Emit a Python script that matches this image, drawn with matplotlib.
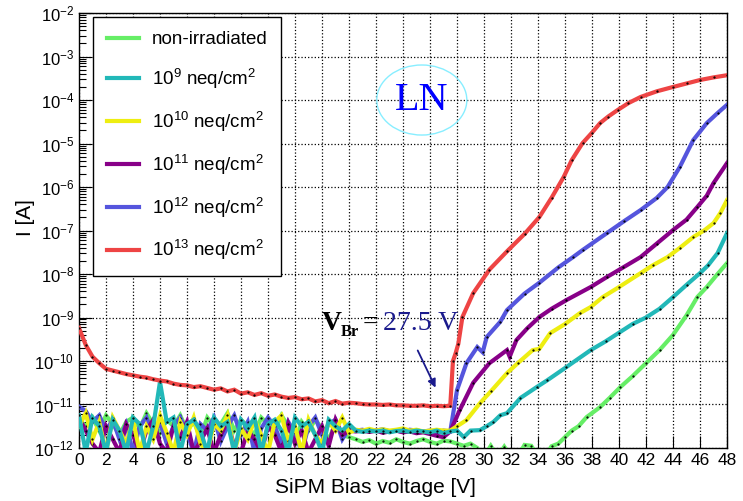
import matplotlib
matplotlib.use('Agg')
import matplotlib.pyplot as plt
import numpy as np
from matplotlib.patches import Ellipse
from matplotlib.ticker import LogLocator, NullFormatter

plt.rcParams['font.family'] = ['Liberation Sans', 'DejaVu Sans']
plt.rcParams['mathtext.default'] = 'regular'

# bias voltage scan below breakdown (0 .. 27.5 V, 0.5 V step)
v_scan = [0.0, 0.5, 1.0, 1.5, 2.0, 2.5, 3.0, 3.5, 4.0, 4.5, 5.0, 5.5, 6.0, 6.5,
          7.0, 7.5, 8.0, 8.5, 9.0, 9.5, 10.0, 10.5, 11.0, 11.5, 12.0, 12.5, 13.0,
          13.5, 14.0, 14.5, 15.0, 15.5, 16.0, 16.5, 17.0, 17.5, 18.0, 18.5, 19.0,
          19.5, 20.0, 20.5, 21.0, 21.5, 22.0, 22.5, 23.0, 23.5, 24.0, 24.5, 25.0,
          25.5, 26.0, 26.5, 27.0, 27.5]

# log10(I [A]) on that scan
logi_green_low = [-11.35, -11.5, -11.3, -11.6, -11.25, -11.45, -11.7, -11.4, -11.3, -11.55,
                  -11.2, -11.45, -11.65, -11.35, -11.5, -11.25, -11.6, -11.4, -11.75, -11.3,
                  -11.5, -11.45, -11.2, -11.6, -11.35, -11.5, -11.7, -11.3, -11.45, -11.6,
                  -11.25, -11.5, -11.9, -11.4, -11.6, -11.35, -11.55, -11.8, -11.45, -11.7,
                  -11.75,
                  -11.8, -11.86, -11.82, -11.9, -11.84, -11.88, -11.8, -11.86, -11.9, -11.84,
                  -11.8, -11.86, -11.9, -11.83, -11.85]
logi_cyan_low = [-11.25, -12.1, -11.3, -11.5, -12.1, -11.35, -11.6, -12.1, -11.3, -11.45,
                 -12.1, -11.5, -10.48, -11.4, -11.3, -12.1, -11.45, -11.35, -11.6, -12.1,
                 -11.3, -11.5, -11.4, -12.1, -11.35, -11.55, -11.3, -12.1, -11.45, -11.35,
                 -11.6, -12.1, -11.3, -11.5, -11.4, -11.7, -12.1, -11.35, -11.5, -11.6,
                 -11.45,
                 -11.6, -11.63, -11.6, -11.62, -11.6, -11.64, -11.61, -11.6, -11.63, -11.6,
                 -11.62, -11.64, -11.6, -11.66, -11.62]
logi_yellow_low = [-11.5, -11.2, -11.8, -11.4, -12.1, -11.3, -11.6, -11.9, -11.35, -12.1,
                   -11.5, -11.8, -11.25, -11.65, -12.1, -11.4, -11.7, -11.3, -11.9, -12.1,
                   -11.45, -11.6, -11.25, -12.1, -11.55, -11.8, -11.35, -11.7, -12.1, -11.4,
                   -11.25, -11.85, -11.5, -12.1, -11.35, -11.7, -11.9, -11.4, -11.6, -11.3,
                   -11.65,
                   -11.58, -11.6, -11.56, -11.6, -11.57, -11.6, -11.58, -11.55, -11.6, -11.58,
                   -11.62, -11.6, -11.58, -11.6, -11.6]
logi_purple_low = [-11.3, -11.6, -11.9, -12.1, -11.5, -11.8, -12.1, -11.45, -11.7, -12.1,
                   -11.6, -11.35, -11.9, -12.1, -11.5, -11.75, -11.4, -12.1, -11.85, -11.55,
                   -12.1, -11.7, -11.4, -11.95, -12.1, -11.6, -11.8, -12.1, -11.5, -11.7,
                   -12.1, -11.45, -11.9, -11.6, -12.1, -11.8, -11.5, -11.95, -11.35, -11.7,
                   -11.6,
                   -11.62, -11.6, -11.63, -11.6, -11.65, -11.62, -11.6, -11.64, -11.62, -11.66,
                   -11.64, -11.68, -11.72, -11.75, -11.62]
logi_blue_low = [-11.05, -11.15, -11.4, -11.25, -11.6, -11.35, -11.8, -11.45, -12.1, -11.5,
                 -11.3, -11.75, -11.4, -11.9, -11.5, -11.3, -11.65, -12.1, -11.45, -11.6,
                 -11.3, -11.85, -11.5, -11.25, -11.7, -11.4, -12.1, -11.55, -11.3, -11.5,
                 -11.9, -11.4, -11.65, -12.1, -11.5, -11.3, -11.7, -11.45, -11.35, -11.8,
                 -11.55,
                 -11.6, -11.58, -11.62, -11.6, -11.57, -11.62, -11.6, -11.63, -11.58, -11.6,
                 -11.62, -11.6, -11.64, -11.6, -11.62]
logi_red_low = [-9.24, -9.63, -9.9, -10.05, -10.18, -10.22, -10.26, -10.3, -10.33, -10.36,
                -10.38, -10.42, -10.45, -10.47, -10.52, -10.55, -10.56, -10.6, -10.58, -10.62,
                -10.66, -10.63, -10.7, -10.66, -10.75, -10.72, -10.78, -10.74, -10.8, -10.77,
                -10.82, -10.85, -10.83, -10.88, -10.86, -10.93, -10.9, -10.97, -10.92, -10.98,
                -10.96, -10.97, -10.99, -11.0, -11.0, -11.01, -11.0, -11.02, -11.02, -11.03,
                -11.03, -11.02, -11.04, -11.03, -11.04, -11.03]

# above breakdown
v_green_hi = [28.0, 28.5, 29.0, 29.5, 30.0, 30.5, 31.0, 31.5, 32.0, 32.5, 33.0, 33.5, 34.0,
              34.5, 35.0, 35.5, 36.0, 36.5, 37.0, 37.6, 38.6, 39.3, 40.1, 41.0, 42.0, 43.0,
              44.0, 45.0, 45.8, 46.5, 47.3, 48.0]
logi_green_hi = [-11.9, -11.95, -11.9, -12.0, -12.2, -11.95, -12.2, -11.97, -12.2, -12.2,
                 -11.93, -11.95, -12.2, -12.2, -11.96, -11.9, -11.75, -11.6, -11.5, -11.29,
                 -11.06, -10.85, -10.6, -10.35, -10.05, -9.75, -9.4, -8.95, -8.53, -8.3,
                 -8.0, -7.75]
v_cyan_hi = [28.0, 28.5, 29.0, 29.7, 30.2, 30.7, 31.2, 31.7, 32.7, 33.9, 34.7, 36.1, 37.9,
             39.0, 40.0, 41.0, 42.0, 43.0, 44.0, 45.0, 46.0, 46.6, 47.3, 48.0]
logi_cyan_hi = [-11.6, -11.75, -11.6, -11.59, -11.5, -11.4, -11.25, -11.2, -10.85, -10.6,
                -10.44, -10.14, -9.75, -9.55, -9.35, -9.15, -9.0, -8.8, -8.53, -8.25,
                -7.98, -7.8, -7.52, -7.06]
v_yellow_hi = [28.0, 28.7, 29.7, 30.5, 31.7, 32.5, 33.6, 34.1, 34.9, 36.0, 37.1, 37.9,
               38.8, 40.0, 41.6, 42.5, 43.6, 44.5, 45.5, 46.3, 47.0, 47.5, 48.0]
logi_yellow_hi = [-11.5, -11.36, -10.97, -10.7, -10.28, -10.05, -9.75, -9.72, -9.36, -9.15,
                  -8.9, -8.76, -8.53, -8.3, -7.98, -7.8, -7.61, -7.4, -7.15, -7.0, -6.83,
                  -6.6, -6.3]
v_purple_hi = [28.2, 29.2, 30.4, 31.7, 31.9, 32.4, 33.2, 34.1, 35.0, 36.1, 37.9, 39.1,
               40.3, 41.6, 42.8, 44.0, 45.0, 45.8, 46.5, 47.0, 48.0]
logi_purple_hi = [-11.13, -10.5, -10.05, -9.75, -9.9, -9.52, -9.25, -8.99, -8.8, -8.6,
                  -8.3, -8.07, -7.85, -7.61, -7.3, -6.99, -6.75, -6.46, -6.2, -5.91, -5.45]
v_blue_hi = [28.0, 28.7, 29.5, 29.9, 30.2, 31.2, 31.7, 33.0, 34.1, 35.5, 36.6, 37.3, 39.1,
             40.4, 41.6, 42.8, 43.6, 44.5, 45.5, 46.5, 47.3, 48.0]
logi_blue_hi = [-10.67, -10.05, -9.68, -9.8, -9.45, -9.1, -8.83, -8.45, -8.2, -7.85, -7.61,
                -7.45, -7.06, -6.78, -6.53, -6.25, -6.0, -5.54, -4.92, -4.53, -4.3, -4.11]
v_red_hi = [27.7, 27.9, 28.1, 28.4, 29.2, 30.4, 31.7, 33.0, 34.1, 35.0, 35.9, 36.5, 37.3,
            38.0, 38.6, 39.2, 39.9, 40.7, 41.6, 42.8, 44.0, 45.0, 46.0, 47.0, 48.0]
logi_red_hi = [-10.0, -9.82, -9.6, -8.99, -8.44, -7.9, -7.48, -7.08, -6.69, -6.25, -5.77,
               -5.38, -4.99, -4.75, -4.53, -4.38, -4.23, -4.07, -3.93, -3.8, -3.70, -3.62,
               -3.54, -3.48, -3.43]

labels = ['non-irradiated', '10$^{9}$ neq/cm$^{2}$', '10$^{10}$ neq/cm$^{2}$',
          '10$^{11}$ neq/cm$^{2}$', '10$^{12}$ neq/cm$^{2}$', '10$^{13}$ neq/cm$^{2}$']
colors = ['#66ee66', '#22b8b8', '#eeee11', '#880088', '#5555dd', '#ee4444']

series = [
    (logi_green_low, v_green_hi, logi_green_hi),
    (logi_cyan_low, v_cyan_hi, logi_cyan_hi),
    (logi_yellow_low, v_yellow_hi, logi_yellow_hi),
    (logi_purple_low, v_purple_hi, logi_purple_hi),
    (logi_blue_low, v_blue_hi, logi_blue_hi),
    (logi_red_low, v_red_hi, logi_red_hi),
]
zorders = [3, 7, 5, 4, 3.5, 8]

fig = plt.figure(figsize=(7.43, 5.01), dpi=100)
ax = fig.add_axes([0.1063, 0.1058, 0.8722, 0.8682])

handles = []
for (lo, vh, hi), c, lab, z in zip(series, colors, labels, zorders):
    v = np.array(v_scan + vh)
    cur = 10.0 ** np.array(lo + hi)
    h, = ax.plot(v, cur, color=c, lw=3, label=lab, zorder=z, solid_joinstyle='miter')
    ax.plot(v, cur, ls='none', marker='.', ms=1.2, color='black', zorder=z + 0.1)
    handles.append(h)

ax.set_yscale('log')
ax.set_xlim(0, 48)
ax.set_ylim(1e-12, 1e-2)
ax.set_xticks(np.arange(0, 49, 2))
ax.yaxis.set_major_locator(LogLocator(base=10, numticks=20))
ax.yaxis.set_minor_locator(LogLocator(base=10, subs=np.arange(2, 10), numticks=100))
ax.yaxis.set_minor_formatter(NullFormatter())
ax.tick_params(which='major', direction='in', length=9, width=0.8)
ax.tick_params(axis='x', labelsize=12.5)
ax.tick_params(axis='y', labelsize=12)
ax.tick_params(which='minor', direction='in', length=5, width=0.8)
ax.grid(True, which='major', ls=':', color='black', lw=0.9)
for s in ax.spines.values():
    s.set_linewidth(1.0)

ax.set_xlabel('SiPM Bias voltage [V]', fontsize=15)
ax.xaxis.set_label_coords(0.457, -0.07)
ax.set_ylabel('I [A]', fontsize=15)
ax.yaxis.label.set_va('center')
ax.yaxis.set_label_coords(-0.082, 0.53)

leg = ax.legend(handles=handles, loc='upper left', bbox_to_anchor=(0.021, 0.991),
                fontsize=13.5, frameon=True, fancybox=False, edgecolor='black',
                framealpha=1, labelspacing=1.0, handlelength=1.75, borderpad=0.75,
                handletextpad=0.65, borderaxespad=0)
leg.get_frame().set_linewidth(1.0)
leg.set_zorder(20)

# breakdown annotation
ax.text(18.0, 10 ** -9.29, 'V', fontsize=20, fontweight='bold', family='Liberation Serif',
        color='black', va='baseline', ha='left', zorder=15)
ax.text(19.4, 10 ** -9.42, 'Br', fontsize=12, fontweight='bold', family='Liberation Serif',
        color='black', va='baseline', ha='left', zorder=15)
ax.text(21.0, 10 ** -9.29, '=', fontsize=20, family='Liberation Serif',
        color='black', va='baseline', ha='left', zorder=15)
ax.text(22.5, 10 ** -9.29, '27.5 V', fontsize=20, family='Liberation Serif',
        color='#1a1a8c', va='baseline', ha='left', zorder=15)
ax.annotate('', xy=(26.5, 10 ** -10.67), xytext=(25.0, 10 ** -9.7),
            arrowprops=dict(arrowstyle='-|>', color='#1a1a8c', lw=1.3,
                            mutation_scale=12), zorder=15)

# LN label
ax.add_patch(Ellipse((0.529, 0.8), 0.139, 0.161, transform=ax.transAxes,
                     fill=False, edgecolor='#88eeff', lw=1.0, zorder=15))
ax.text(0.529, 0.8, 'LN', transform=ax.transAxes, fontsize=29,
        family='Liberation Serif', color='#0000ff', ha='center', va='center', zorder=16)

fig.savefig('out.png', dpi=100)
